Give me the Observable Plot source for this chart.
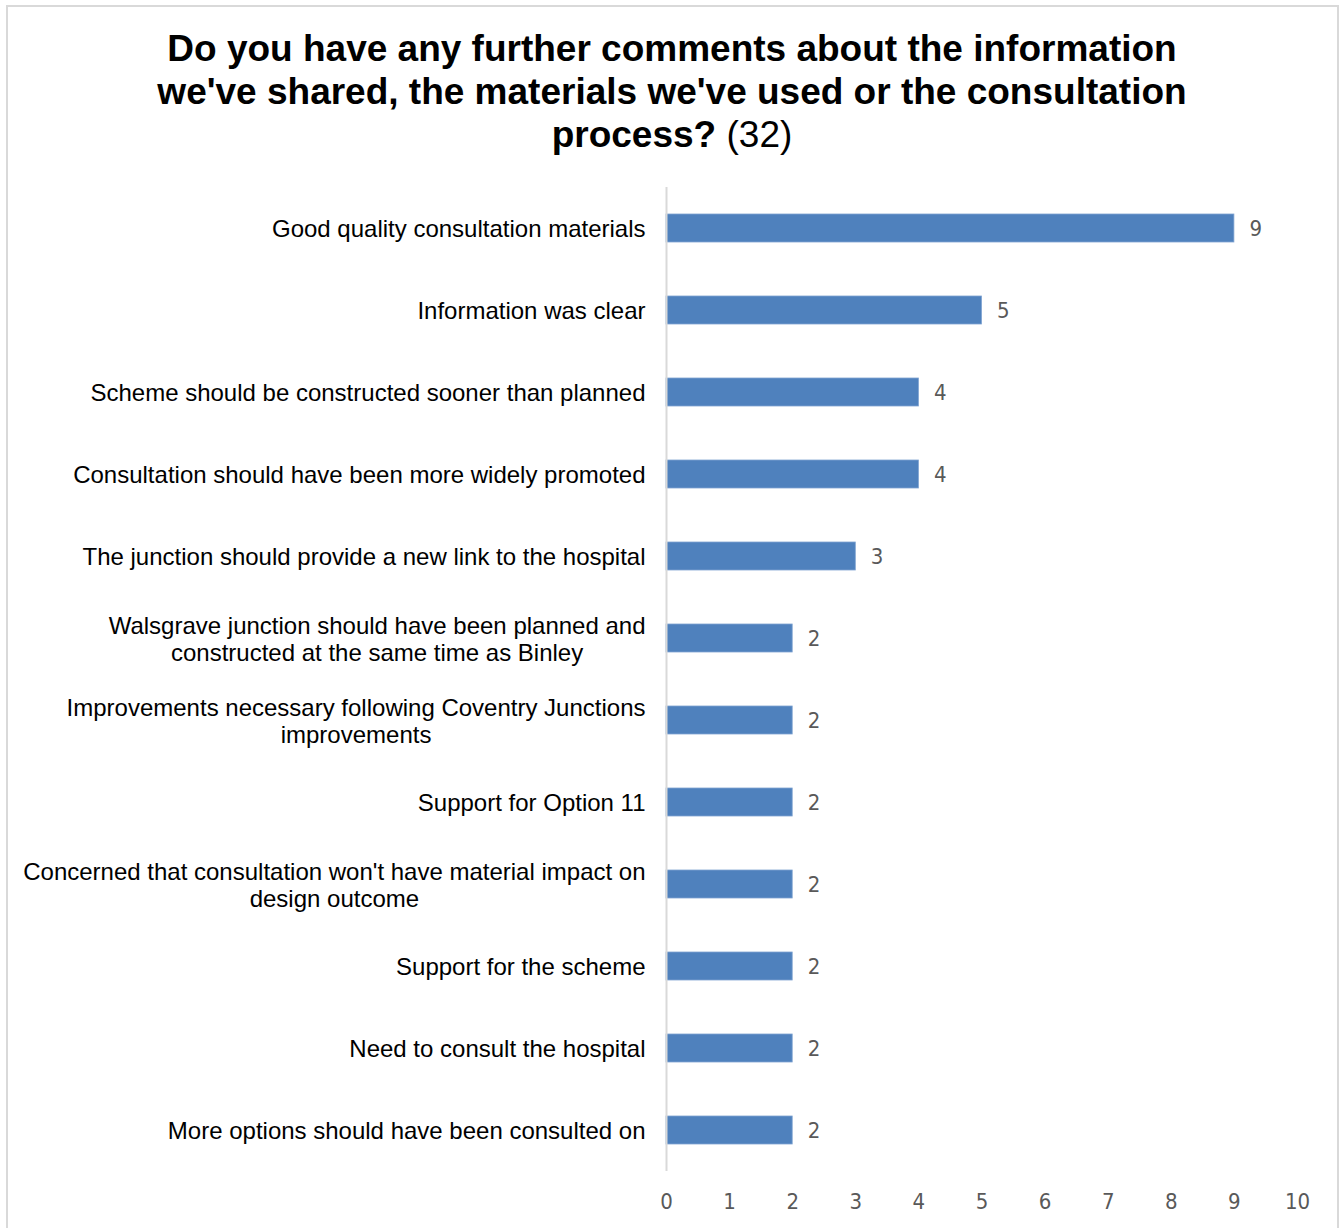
<!DOCTYPE html>
<html>
<head>
<meta charset="utf-8">
<script src="https://cdn.jsdelivr.net/npm/d3@7"></script>
<script src="https://cdn.jsdelivr.net/npm/@observablehq/plot@0.6"></script>
<style>
  html, body { margin: 0; padding: 0; background: #fff; }
  body { width: 1341px; height: 1228px; position: relative; overflow: hidden; font-family: "Liberation Sans", Arial, sans-serif; }
  #frame { position: absolute; left: 6px; top: 5px; width: 1333px; height: 1300px; border: 2px solid #d9d9d9; box-sizing: border-box; }
  #title { position: relative; height: 180px; box-sizing: border-box; padding-top: 27px; padding-left: 3px; text-align: center; font-size: 37px; line-height: 43px; font-weight: bold; color: #000; }
  #title .n { font-weight: normal; }
  #chart { position: relative; }
  #chart svg { display: block; }
</style>
</head>
<body>
<div id="frame"></div>
<div id="title">Do you have any further comments about the information<br>we've shared, the materials we've used or the consultation<br>process? <span class="n">(32)</span></div>
<div id="chart"></div>
<script>
const categories = [
  "Good quality consultation materials",
  "Information was clear",
  "Scheme should be constructed sooner than planned",
  "Consultation should have been more widely promoted",
  "The junction should provide a new link to the hospital",
  "Walsgrave junction should have been planned and\nconstructed at the same time as Binley",
  "Improvements necessary following Coventry Junctions\nimprovements",
  "Support for Option 11",
  "Concerned that consultation won't have material impact on\ndesign outcome",
  "Support for the scheme",
  "Need to consult the hospital",
  "More options should have been consulted on"
];
const counts = [9, 5, 4, 4, 3, 2, 2, 2, 2, 2, 2, 2];
const xTicks = [0, 1, 2, 3, 4, 5, 6, 7, 8, 9, 10];

const data = categories.map((c, i) => ({cat: c, count: counts[i]}));

const labelFont = "24px 'Liberation Sans'";
const numFont = "'Liberation Sans Narrow', 'DejaVu Sans Condensed', 'Roboto Condensed', sans-serif";
const ctx = document.createElement("canvas").getContext("2d");
ctx.font = labelFont;
function maxLineWidth(s) {
  return Math.max(...s.split("\n").map(l => ctx.measureText(l).width));
}

const labelMarks = data.map(d => Plot.text([d], {
  x: () => 0,
  y: "cat",
  text: "cat",
  textAnchor: "middle",
  dx: -(21 + maxLineWidth(d.cat) / 2),
  fontSize: 24,
  lineHeight: 27 / 24,
  fill: "#000"
}));

const chart = Plot.plot({
  width: 1341,
  height: 1048,
  marginLeft: 666,
  marginRight: 44,
  marginTop: 7,
  marginBottom: 57,
  style: {fontFamily: "'Liberation Sans', Arial, sans-serif", background: "transparent", overflow: "visible"},
  x: {domain: [0, 10], axis: null, label: null},
  y: {domain: categories, paddingInner: 0.66, paddingOuter: 0.33, axis: null, label: null},
  marks: [
    Plot.barX(data, {x: "count", y: "cat", fill: "#4F81BD", stroke: "#7fa3d1", strokeWidth: 0.8}),
    Plot.ruleX([0], {stroke: "#d9d9d9", strokeWidth: 2}),
    Plot.axisX({ticks: xTicks, tickSize: 0, tickPadding: 22, fontSize: 22, fontFamily: numFont, color: "#595959", label: null, tickFormat: d => String(d)}),
    Plot.text(data, {x: "count", y: "cat", text: d => String(d.count), textAnchor: "start", dx: 15, fill: "#595959", fontSize: 22, fontFamily: numFont}),
    ...labelMarks
  ]
});
document.getElementById("chart").appendChild(chart);
</script>
</body>
</html>
